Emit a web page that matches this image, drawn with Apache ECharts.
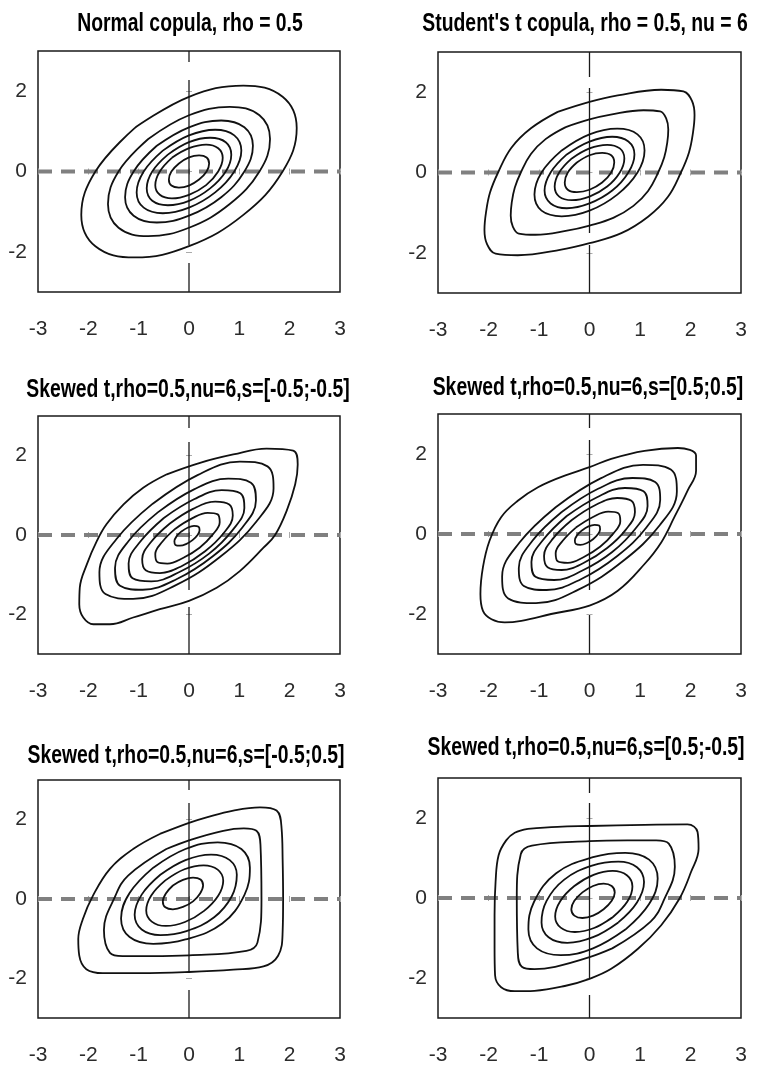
<!DOCTYPE html>
<html><head><meta charset="utf-8">
<script src="https://cdn.jsdelivr.net/npm/echarts@6/dist/echarts.min.js"></script>
<style>html,body{margin:0;padding:0;background:#fff}#c{width:757px;height:1075px}</style>
</head><body><div id="c"></div><script>
const xTicks=[-3,-2,-1,0,1,2,3];
const yTicks=[-2,0,2];
const axisMin=-3, axisMax=3;
const titles=["Normal copula, rho = 0.5","Student's t copula, rho = 0.5, nu = 6","Skewed t,rho=0.5,nu=6,s=[-0.5;-0.5]","Skewed t,rho=0.5,nu=6,s=[0.5;0.5]","Skewed t,rho=0.5,nu=6,s=[-0.5;0.5]","Skewed t,rho=0.5,nu=6,s=[0.5;-0.5]"];
const zeroLineH=[[-3,0],[3,0]];
const zeroLineV=[[0,3],[0,-3]];

const p1=[
[[-1.08,1.08],[-1.86,0],[-2.14,-1.08],[-1.86,-1.86],[-1.08,-2.14],[0,-1.86],[1.08,-1.08],[1.86,0],[2.14,1.08],[1.86,1.86],[1.08,2.14],[0,1.86],[-1.08,1.08]],
[[-0.81,0.81],[-1.40,0],[-1.61,-0.81],[-1.40,-1.40],[-0.81,-1.61],[0,-1.40],[0.81,-0.81],[1.40,0],[1.61,0.81],[1.40,1.40],[0.81,1.61],[0,1.40],[-0.81,0.81]],
[[-0.64,0.64],[-1.10,0],[-1.27,-0.64],[-1.10,-1.10],[-0.64,-1.27],[0,-1.10],[0.64,-0.64],[1.10,0],[1.27,0.64],[1.10,1.10],[0.64,1.27],[0,1.10],[-0.64,0.64]],
[[-0.52,0.52],[-0.90,0],[-1.04,-0.52],[-0.90,-0.90],[-0.52,-1.04],[0,-0.90],[0.52,-0.52],[0.90,0],[1.04,0.52],[0.90,0.90],[0.52,1.04],[0,0.90],[-0.52,0.52]],
[[-0.42,0.42],[-0.73,0],[-0.84,-0.42],[-0.73,-0.73],[-0.42,-0.84],[0,-0.73],[0.42,-0.42],[0.73,0],[0.84,0.42],[0.73,0.73],[0.42,0.84],[0,0.73],[-0.42,0.42]],
[[-0.34,0.34],[-0.58,0],[-0.67,-0.34],[-0.58,-0.58],[-0.34,-0.67],[0,-0.58],[0.34,-0.34],[0.58,0],[0.67,0.34],[0.58,0.58],[0.34,0.67],[0,0.58],[-0.34,0.34]],
[[-0.20,0.20],[-0.35,0],[-0.40,-0.20],[-0.35,-0.35],[-0.20,-0.40],[0,-0.35],[0.20,-0.20],[0.35,0],[0.40,0.20],[0.35,0.35],[0.20,0.40],[0,0.35],[-0.20,0.20]]
];
const p2=[
[[-0.63,1.51],[-1.16,1.10],[-1.55,0.61],[-1.81,0],[-1.97,-0.50],[-2.05,-1.00],[-2.08,-1.43],[-2.03,-1.78],[-1.86,-2.02],[-1.42,-2.06],[-0.56,-1.92],[0,-1.76],[0.63,-1.51],[1.16,-1.10],[1.55,-0.61],[1.81,0],[1.97,0.50],[2.05,1.00],[2.08,1.43],[2.03,1.78],[1.86,2.02],[1.42,2.06],[0.56,1.92],[0,1.76],[-0.63,1.51]],
[[-0.47,1.13],[-0.87,0.83],[-1.16,0.46],[-1.36,0],[-1.48,-0.38],[-1.54,-0.75],[-1.56,-1.07],[-1.52,-1.34],[-1.40,-1.52],[-1.07,-1.55],[-0.42,-1.44],[0,-1.32],[0.47,-1.13],[0.87,-0.83],[1.16,-0.46],[1.36,0],[1.48,0.38],[1.54,0.75],[1.56,1.07],[1.52,1.34],[1.40,1.52],[1.07,1.55],[0.42,1.44],[0,1.32],[-0.47,1.13]],
[[-0.55,0.55],[-0.95,0],[-1.09,-0.55],[-0.95,-0.95],[-0.55,-1.09],[0,-0.95],[0.55,-0.55],[0.95,0],[1.09,0.55],[0.95,0.95],[0.55,1.09],[0,0.95],[-0.55,0.55]],
[[-0.45,0.45],[-0.77,0],[-0.89,-0.45],[-0.77,-0.77],[-0.45,-0.89],[0,-0.77],[0.45,-0.45],[0.77,0],[0.89,0.45],[0.77,0.77],[0.45,0.89],[0,0.77],[-0.45,0.45]],
[[-0.35,0.35],[-0.60,0],[-0.69,-0.35],[-0.60,-0.60],[-0.35,-0.69],[0,-0.60],[0.35,-0.35],[0.60,0],[0.69,0.35],[0.60,0.60],[0.35,0.69],[0,0.60],[-0.35,0.35]],
[[-0.25,0.25],[-0.43,0],[-0.49,-0.25],[-0.43,-0.43],[-0.25,-0.49],[0,-0.43],[0.25,-0.25],[0.43,0],[0.49,0.25],[0.43,0.43],[0.25,0.49],[0,0.43],[-0.25,0.25]]
];
const p3=[
[[-0.44,1.53],[-0.91,1.19],[-1.30,0.77],[-1.64,0.27],[-1.83,-0.15],[-2.03,-0.74],[-2.17,-1.33],[-2.18,-1.75],[-2.10,-2.08],[-1.90,-2.25],[-1.57,-2.25],[-1.11,-2.08],[-0.58,-1.87],[0,-1.66],[0.55,-1.33],[1.01,-0.91],[1.48,-0.32],[1.71,0],[1.94,0.61],[2.11,1.28],[2.16,1.78],[2.07,2.13],[1.54,2.18],[0.88,2.03],[0.22,1.82],[-0.44,1.53]],
[[-0.72,0.79],[-1.44,-0.10],[-1.78,-0.94],[-1.66,-1.49],[-1.11,-1.61],[-0.27,-1.27],[0.62,-0.55],[1.34,0.34],[1.68,1.18],[1.56,1.73],[1.01,1.85],[0.17,1.51],[-0.72,0.79]],
[[-0.62,0.57],[-1.20,-0.15],[-1.47,-0.83],[-1.37,-1.28],[-0.92,-1.38],[-0.24,-1.11],[0.48,-0.53],[1.06,0.19],[1.33,0.87],[1.23,1.32],[0.78,1.42],[0.10,1.15],[-0.62,0.57]],
[[-0.50,0.43],[-0.97,-0.17],[-1.20,-0.72],[-1.12,-1.09],[-0.75,-1.17],[-0.20,-0.94],[0.40,-0.47],[0.87,0.13],[1.10,0.68],[1.02,1.05],[0.65,1.13],[0.10,0.90],[-0.50,0.43]],
[[-0.38,0.29],[-0.75,-0.17],[-0.93,-0.61],[-0.86,-0.89],[-0.58,-0.96],[-0.14,-0.78],[0.32,-0.41],[0.69,0.05],[0.87,0.49],[0.80,0.77],[0.52,0.84],[0.08,0.66],[-0.38,0.29]],
[[-0.27,0.16],[-0.53,-0.17],[-0.67,-0.48],[-0.63,-0.68],[-0.43,-0.72],[-0.12,-0.58],[0.21,-0.32],[0.47,0.01],[0.61,0.32],[0.57,0.52],[0.37,0.56],[0.06,0.42],[-0.27,0.16]],
[[-0.15,0.09],[-0.25,-0.04],[-0.29,-0.16],[-0.27,-0.25],[-0.18,-0.27],[-0.06,-0.23],[0.07,-0.13],[0.17,0.00],[0.21,0.12],[0.19,0.21],[0.10,0.23],[-0.02,0.19],[-0.15,0.09]]
];
const p4=[
[[-0.49,1.46],[-1.02,1.17],[-1.42,0.83],[-1.75,0.42],[-1.98,-0.17],[-2.11,-0.83],[-2.16,-1.50],[-2.11,-1.92],[-1.94,-2.13],[-1.68,-2.21],[-1.35,-2.17],[-0.76,-2.00],[0,-1.79],[0.56,-1.42],[1.09,-0.75],[1.42,-0.21],[1.68,0.42],[1.94,1.08],[2.11,1.58],[2.11,1.96],[1.75,2.15],[1.09,2.08],[0.43,1.88],[0,1.67],[-0.49,1.46]],
[[-0.67,0.67],[-1.39,-0.22],[-1.73,-1.06],[-1.61,-1.61],[-1.06,-1.73],[-0.22,-1.39],[0.67,-0.67],[1.39,0.22],[1.73,1.06],[1.61,1.61],[1.06,1.73],[0.22,1.39],[-0.67,0.67]],
[[-0.55,0.55],[-1.13,-0.17],[-1.40,-0.85],[-1.30,-1.30],[-0.85,-1.40],[-0.17,-1.13],[0.55,-0.55],[1.13,0.17],[1.40,0.85],[1.30,1.30],[0.85,1.40],[0.17,1.13],[-0.55,0.55]],
[[-0.45,0.45],[-0.92,-0.15],[-1.15,-0.70],[-1.07,-1.07],[-0.70,-1.15],[-0.15,-0.92],[0.45,-0.45],[0.92,0.15],[1.15,0.70],[1.07,1.07],[0.70,1.15],[0.15,0.92],[-0.45,0.45]],
[[-0.35,0.35],[-0.72,-0.11],[-0.90,-0.55],[-0.83,-0.83],[-0.55,-0.90],[-0.11,-0.72],[0.35,-0.35],[0.72,0.11],[0.90,0.55],[0.83,0.83],[0.55,0.90],[0.11,0.72],[-0.35,0.35]],
[[-0.27,0.16],[-0.53,-0.17],[-0.67,-0.48],[-0.63,-0.68],[-0.43,-0.72],[-0.12,-0.58],[0.21,-0.32],[0.47,0.01],[0.61,0.32],[0.57,0.52],[0.37,0.56],[0.06,0.42],[-0.27,0.16]],
[[-0.15,0.09],[-0.25,-0.04],[-0.29,-0.16],[-0.27,-0.25],[-0.18,-0.27],[-0.06,-0.23],[0.07,-0.13],[0.17,0.00],[0.21,0.12],[0.19,0.21],[0.10,0.23],[-0.02,0.19],[-0.15,0.09]]
];
const p5=[
[[-0.58,1.64],[-1.11,1.26],[-1.57,0.76],[-1.91,0.08],[-2.11,-0.51],[-2.20,-1.01],[-2.18,-1.43],[-2.04,-1.77],[-1.71,-1.87],[-0.98,-1.87],[0,-1.84],[0.88,-1.78],[1.48,-1.70],[1.77,-1.43],[1.86,-0.84],[1.87,0],[1.86,1.01],[1.84,1.77],[1.74,2.23],[1.41,2.31],[0.88,2.23],[0.35,2.06],[0,1.92],[-0.58,1.64]],
[[-0.45,1.26],[-1.21,0.59],[-1.47,0.06],[-1.69,-0.78],[-1.57,-1.36],[-1.32,-1.44],[-0.75,-1.44],[0,-1.42],[1.14,-1.31],[1.36,-1.10],[1.44,0],[1.42,1.36],[1.34,1.72],[1.09,1.78],[0.68,1.72],[0,1.48],[-0.45,1.26]],
[[-0.71,0.79],[-1.18,0.15],[-1.35,-0.49],[-1.18,-0.96],[-0.71,-1.13],[-0.07,-1.02],[0.66,-0.62],[1.10,0.10],[1.21,0.79],[1.04,1.26],[0.57,1.43],[-0.07,1.26],[-0.71,0.79]],
[[-0.57,0.61],[-0.94,0.11],[-1.08,-0.40],[-0.94,-0.77],[-0.57,-0.91],[-0.05,-0.81],[0.50,-0.46],[0.85,0.07],[0.95,0.61],[0.81,0.98],[0.44,1.12],[-0.07,0.98],[-0.57,0.61]],
[[-0.47,0.47],[-0.75,0.09],[-0.85,-0.29],[-0.74,-0.57],[-0.46,-0.68],[-0.08,-0.58],[0.30,-0.30],[0.58,0.08],[0.68,0.46],[0.57,0.74],[0.29,0.85],[-0.09,0.75],[-0.47,0.47]],
[[-0.32,0.34],[-0.46,0.14],[-0.52,-0.06],[-0.47,-0.21],[-0.32,-0.26],[-0.12,-0.20],[0.08,-0.06],[0.22,0.14],[0.28,0.34],[0.23,0.49],[0.08,0.54],[-0.12,0.48],[-0.32,0.34]]
];
const p6=[
[[-1.22,1.73],[-1.48,1.63],[-1.65,1.44],[-1.80,1.07],[-1.86,0.40],[-1.88,-0.43],[-1.88,-1.27],[-1.87,-1.93],[-1.75,-2.23],[-1.48,-2.33],[-1.09,-2.32],[-0.49,-2.20],[0,-2.02],[0.43,-1.77],[0.96,-1.27],[1.42,-0.68],[1.78,-0.02],[2.01,0.65],[2.16,1.23],[2.14,1.65],[1.94,1.84],[1.09,1.83],[0,1.80],[-0.63,1.78],[-1.22,1.73]],
[[0.45,-1.26],[1.21,-0.59],[1.47,-0.06],[1.69,0.78],[1.57,1.36],[1.32,1.44],[0.75,1.44],[0,1.42],[-1.14,1.31],[-1.36,1.10],[-1.44,0],[-1.42,-1.36],[-1.34,-1.72],[-1.09,-1.78],[-0.68,-1.72],[0,-1.48],[0.45,-1.26]],
[[0.71,-0.79],[1.18,-0.15],[1.35,0.49],[1.18,0.96],[0.71,1.13],[0.07,1.02],[-0.66,0.62],[-1.10,-0.10],[-1.21,-0.79],[-1.04,-1.26],[-0.57,-1.43],[0.07,-1.26],[0.71,-0.79]],
[[0.57,-0.61],[0.94,-0.11],[1.08,0.40],[0.94,0.77],[0.57,0.91],[0.05,0.81],[-0.50,0.46],[-0.85,-0.07],[-0.95,-0.61],[-0.81,-0.98],[-0.44,-1.12],[0.07,-0.98],[0.57,-0.61]],
[[0.47,-0.47],[0.75,-0.09],[0.85,0.29],[0.74,0.57],[0.46,0.68],[0.08,0.58],[-0.30,0.30],[-0.58,-0.08],[-0.68,-0.46],[-0.57,-0.74],[-0.29,-0.85],[0.09,-0.75],[0.47,-0.47]],
[[-0.14,0.14],[-0.30,-0.07],[-0.36,-0.28],[-0.30,-0.44],[-0.14,-0.50],[0.07,-0.44],[0.28,-0.28],[0.44,-0.07],[0.50,0.14],[0.44,0.30],[0.28,0.36],[0.07,0.30],[-0.14,0.14]]
];
const panels=[p1,p2,p3,p4,p5,p6];

const boxes=[
 {left:38,top:51,width:302,height:241},
 {left:438,top:52,width:303,height:241},
 {left:38,top:416,width:302,height:238},
 {left:438,top:414,width:303,height:240},
 {left:38,top:780,width:302,height:238},
 {left:438,top:778,width:303,height:240}
];
const titleCY=[23.5,23.5,390,388,756,748];
const titleCX=[190,585,188,588,186,586];
const vDash=[[11,18,165,18,40],[25,11,145,12,60],[12,14,148,17,50],[14,12,150,25,60],[10,13,170,17,40],[15,10,175,17,40]];

const LABEL_FONT="'Liberation Sans',Arial,sans-serif";
const grid=[],xAxis=[],yAxis=[],series=[],graphic=[];
boxes.forEach((b,i)=>{
  grid.push(Object.assign({show:true,borderColor:'#1a1a1a',borderWidth:1.5,backgroundColor:'#fff'},b));
  graphic.push({type:'text',x:titleCX[i],y:titleCY[i],scaleX:0.745,scaleY:1,silent:true,
    style:{text:titles[i],font:"bold 26px 'Liberation Sans', Arial, sans-serif",fill:'#000',
      textAlign:'center',textVerticalAlign:'middle',align:'center',verticalAlign:'middle'}});
  xAxis.push({type:'value',gridIndex:i,min:axisMin,max:axisMax,splitLine:{show:false},axisLine:{show:false},
    axisTick:{show:true,inside:true,length:3,customValues:xTicks,lineStyle:{color:'#aaa'}},
    axisLabel:{show:true,customValues:xTicks,margin:27,fontFamily:LABEL_FONT,fontSize:21,color:'#2b2b2b',formatter:v=>String(v)}});
  xAxis.push({type:'value',gridIndex:i,position:'top',min:axisMin,max:axisMax,splitLine:{show:false},axisLine:{show:false},
    axisTick:{show:true,inside:true,length:3,customValues:xTicks,lineStyle:{color:'#aaa'}},axisLabel:{show:false}});
  yAxis.push({type:'value',gridIndex:i,min:axisMin,max:axisMax,splitLine:{show:false},axisLine:{show:false},
    axisTick:{show:true,inside:true,length:3,customValues:yTicks,lineStyle:{color:'#aaa'}},
    axisLabel:{show:true,customValues:yTicks,margin:11,padding:[8,0,0,0],fontFamily:LABEL_FONT,fontSize:21,color:'#2b2b2b',formatter:v=>String(v)}});
  yAxis.push({type:'value',gridIndex:i,position:'right',min:axisMin,max:axisMax,splitLine:{show:false},axisLine:{show:false},
    axisTick:{show:true,inside:true,length:3,customValues:yTicks,lineStyle:{color:'#aaa'}},axisLabel:{show:false}});
  const xi=2*i, yi=2*i;
  series.push({type:'line',xAxisIndex:xi,yAxisIndex:yi,data:zeroLineH,showSymbol:false,silent:true,z:2,
    lineStyle:{color:'#808080',width:4,type:[14,9]}});
  series.push({type:'line',xAxisIndex:xi,yAxisIndex:yi,data:zeroLineV,showSymbol:false,silent:true,z:2,
    lineStyle:{color:'#1a1a1a',width:1.3,type:vDash[i]}});
  panels[i].forEach(c=>{
    series.push({type:'line',xAxisIndex:xi,yAxisIndex:yi,data:c,showSymbol:false,silent:true,z:3,smooth:0.4,
      lineStyle:{color:'#111',width:1.8}});
  });
});
const chart=echarts.init(document.getElementById('c'),null,{renderer:'canvas'});
chart.setOption({animation:false,backgroundColor:'#fff',graphic,grid,xAxis,yAxis,series});
</script></body></html>
